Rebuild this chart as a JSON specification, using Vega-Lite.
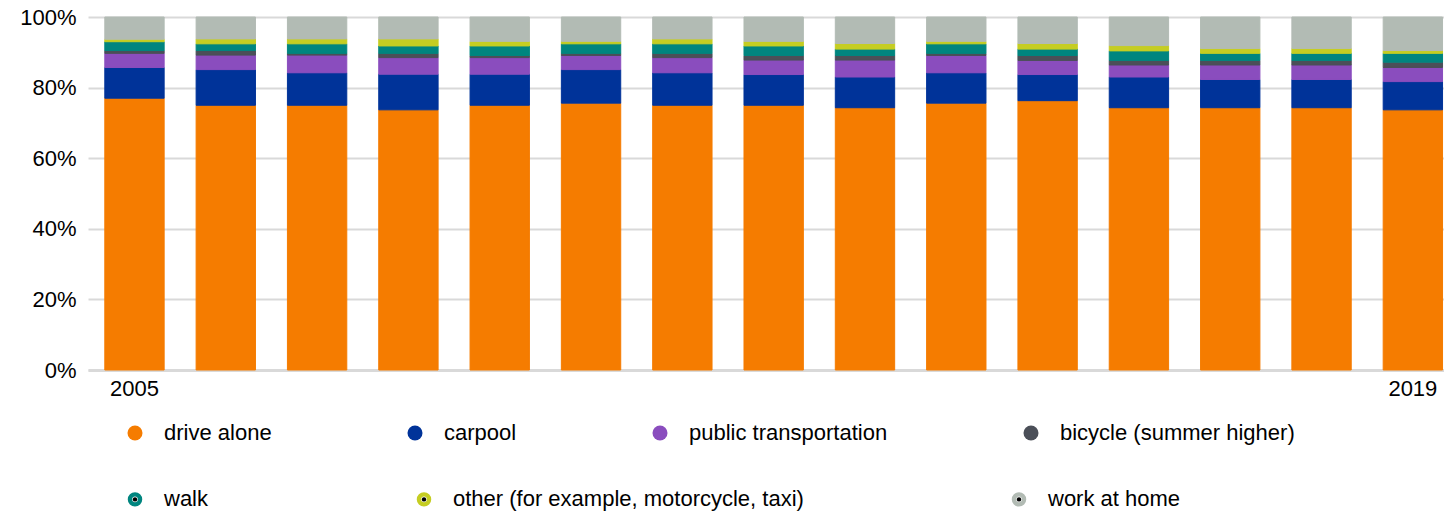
{
  "$schema": "https://vega.github.io/schema/vega-lite/v6.json",
  "width": 1356,
  "height": 353,
  "autosize": {"type": "none"},
  "padding": {"left": 88, "top": 17, "right": 0, "bottom": 142},
  "background": "white",
  "datasets": {
    "modes": [
      {"mode": "drive alone", "rank": 1},
      {"mode": "carpool", "rank": 2},
      {"mode": "public transportation", "rank": 3},
      {"mode": "bicycle (summer higher)", "rank": 4},
      {"mode": "walk", "rank": 5},
      {"mode": "other (for example, motorcycle, taxi)", "rank": 6},
      {"mode": "work at home", "rank": 7}
    ]
  },
  "data": {
    "values": [
      {"year": "2005", "drive alone": 77.0, "carpool": 8.7, "public transportation": 4.0, "bicycle (summer higher)": 0.8, "walk": 2.5, "other (for example, motorcycle, taxi)": 0.7, "work at home": 6.3},
      {"year": "2006", "drive alone": 75.0, "carpool": 10.1, "public transportation": 4.1, "bicycle (summer higher)": 1.3, "walk": 1.9, "other (for example, motorcycle, taxi)": 1.4, "work at home": 6.2},
      {"year": "2007", "drive alone": 75.0, "carpool": 9.2, "public transportation": 5.0, "bicycle (summer higher)": 0.5, "walk": 2.7, "other (for example, motorcycle, taxi)": 1.4, "work at home": 6.2},
      {"year": "2008", "drive alone": 73.7, "carpool": 10.1, "public transportation": 4.7, "bicycle (summer higher)": 1.2, "walk": 2.1, "other (for example, motorcycle, taxi)": 2.0, "work at home": 6.2},
      {"year": "2009", "drive alone": 75.0, "carpool": 8.8, "public transportation": 4.7, "bicycle (summer higher)": 0.6, "walk": 2.7, "other (for example, motorcycle, taxi)": 1.3, "work at home": 6.9},
      {"year": "2010", "drive alone": 75.6, "carpool": 9.5, "public transportation": 4.0, "bicycle (summer higher)": 0.6, "walk": 2.7, "other (for example, motorcycle, taxi)": 0.7, "work at home": 6.9},
      {"year": "2011", "drive alone": 75.0, "carpool": 9.2, "public transportation": 4.3, "bicycle (summer higher)": 1.2, "walk": 2.7, "other (for example, motorcycle, taxi)": 1.4, "work at home": 6.2},
      {"year": "2012", "drive alone": 75.0, "carpool": 8.7, "public transportation": 4.1, "bicycle (summer higher)": 1.3, "walk": 2.7, "other (for example, motorcycle, taxi)": 1.3, "work at home": 6.9},
      {"year": "2013", "drive alone": 74.3, "carpool": 8.7, "public transportation": 4.8, "bicycle (summer higher)": 1.3, "walk": 1.8, "other (for example, motorcycle, taxi)": 1.6, "work at home": 7.5},
      {"year": "2014", "drive alone": 75.6, "carpool": 8.6, "public transportation": 4.9, "bicycle (summer higher)": 0.6, "walk": 2.7, "other (for example, motorcycle, taxi)": 0.7, "work at home": 6.9},
      {"year": "2015", "drive alone": 76.3, "carpool": 7.4, "public transportation": 4.0, "bicycle (summer higher)": 1.4, "walk": 1.8, "other (for example, motorcycle, taxi)": 1.6, "work at home": 7.5},
      {"year": "2016", "drive alone": 74.3, "carpool": 8.7, "public transportation": 3.4, "bicycle (summer higher)": 1.3, "walk": 2.7, "other (for example, motorcycle, taxi)": 1.5, "work at home": 8.1},
      {"year": "2017", "drive alone": 74.3, "carpool": 8.0, "public transportation": 4.1, "bicycle (summer higher)": 1.3, "walk": 2.0, "other (for example, motorcycle, taxi)": 1.4, "work at home": 8.9},
      {"year": "2018", "drive alone": 74.3, "carpool": 8.0, "public transportation": 4.1, "bicycle (summer higher)": 1.3, "walk": 2.0, "other (for example, motorcycle, taxi)": 1.4, "work at home": 8.9},
      {"year": "2019", "drive alone": 73.7, "carpool": 8.0, "public transportation": 4.0, "bicycle (summer higher)": 1.5, "walk": 2.5, "other (for example, motorcycle, taxi)": 0.8, "work at home": 9.5}
    ]
  },
  "transform": [
    {"fold": ["drive alone", "carpool", "public transportation", "bicycle (summer higher)", "walk", "other (for example, motorcycle, taxi)", "work at home"], "as": ["mode", "pct"]},
    {"lookup": "mode", "from": {"data": {"name": "modes"}, "key": "mode", "fields": ["rank"]}}
  ],
  "mark": {"type": "bar"},
  "encoding": {
    "x": {
      "field": "year",
      "type": "ordinal",
      "scale": {"paddingInner": 0.35, "paddingOuter": 0.1, "align": 0.92},
      "axis": {
        "title": null,
        "labelAngle": 0,
        "labelExpr": "datum.value == '2005' || datum.value == '2019' ? datum.value : ''",
        "ticks": false,
        "domain": true,
        "domainColor": "#d9d9d9",
        "domainWidth": 3,
        "labelPadding": 8,
        "grid": false
      }
    },
    "y": {
      "field": "pct",
      "type": "quantitative",
      "stack": "zero",
      "scale": {"domain": [0, 100], "nice": false},
      "axis": {
        "title": null,
        "values": [0, 20, 40, 60, 80, 100],
        "labelExpr": "datum.value + '%'",
        "ticks": false,
        "domain": false,
        "grid": true,
        "gridColor": "#d9d9d9",
        "gridWidth": 2,
        "labelPadding": 12
      }
    },
    "order": {"field": "rank", "type": "quantitative", "sort": "ascending"},
    "color": {
      "field": "mode",
      "type": "nominal",
      "scale": {
        "domain": ["drive alone", "carpool", "public transportation", "bicycle (summer higher)", "walk", "other (for example, motorcycle, taxi)", "work at home"],
        "range": ["#f57c00", "#003399", "#8a4dbe", "#4b4f58", "#00857f", "#c5cd22", "#b2bbb4"]
      },
      "legend": {
        "title": null,
        "orient": "none",
        "legendX": 36,
        "legendY": 405,
        "direction": "horizontal",
        "columns": 4,
        "columnPadding": 132,
        "values": ["drive alone", "carpool", "public transportation", "bicycle (summer higher)"],
        "symbolType": "circle",
        "symbolSize": 225,
        "symbolStrokeWidth": 0,
        "labelFontSize": 22,
        "labelOffset": 18,
        "labelLimit": 600,
        "labelColor": "#000000",
        "labelFont": "Liberation Sans",
        "padding": 0
      }
    },
    "stroke": {
      "field": "mode",
      "type": "nominal",
      "scale": {
        "domain": ["walk", "other (for example, motorcycle, taxi)", "work at home", "drive alone", "carpool", "public transportation", "bicycle (summer higher)"],
        "range": ["#00857f", "#c5cd22", "#b2bbb4", "#f57c00", "#003399", "#8a4dbe", "#4b4f58"]
      },
      "legend": {
        "title": null,
        "orient": "none",
        "legendX": 36,
        "legendY": 471,
        "direction": "horizontal",
        "columns": 3,
        "columnPadding": 192,
        "values": ["walk", "other (for example, motorcycle, taxi)", "work at home"],
        "symbolType": "circle",
        "symbolSize": 20,
        "symbolStrokeWidth": 10,
        "labelFontSize": 22,
        "labelOffset": 18,
        "labelLimit": 600,
        "labelColor": "#000000",
        "labelFont": "Liberation Sans",
        "padding": 0
      }
    }
  },
  "config": {
    "view": {"stroke": null},
    "axis": {"labelFont": "Liberation Sans", "labelFontSize": 22, "labelColor": "#000000"},
    "legend": {"padding": 0}
  }
}
